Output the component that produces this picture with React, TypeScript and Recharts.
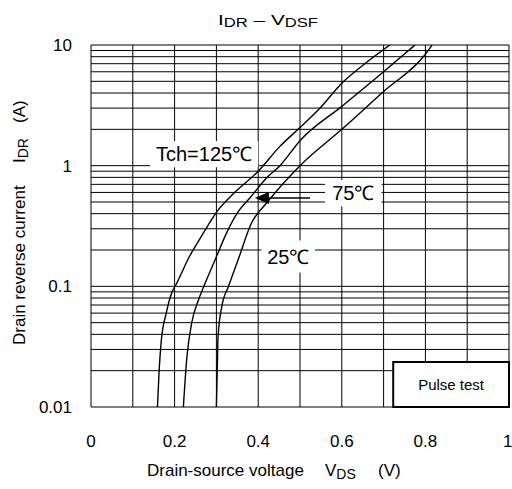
import { LineChart, Line, XAxis, YAxis, ReferenceLine, Label } from 'recharts'

// I_DR vs V_DSF
const curve125 = [
  { v: 0.159, i: 0.01 }, { v: 0.163, i: 0.02 }, { v: 0.168, i: 0.035 }, { v: 0.18, i: 0.06 },
  { v: 0.193, i: 0.088 }, { v: 0.205, i: 0.106 }, { v: 0.213, i: 0.121 }, { v: 0.233, i: 0.17 },
  { v: 0.255, i: 0.23 }, { v: 0.28, i: 0.32 }, { v: 0.3, i: 0.41 }, { v: 0.335, i: 0.56 },
  { v: 0.4, i: 0.9 }, { v: 0.452, i: 1.445 }, { v: 0.496, i: 2.01 },
  { v: 0.548, i: 3.0 }, { v: 0.6, i: 4.83 }, { v: 0.652, i: 6.86 }, { v: 0.715, i: 10 },
]
const curve75 = [
  { v: 0.221, i: 0.01 }, { v: 0.229, i: 0.025 }, { v: 0.241, i: 0.05 }, { v: 0.257, i: 0.077 },
  { v: 0.27, i: 0.1 }, { v: 0.297, i: 0.166 }, { v: 0.325, i: 0.28 },
  { v: 0.349, i: 0.4 }, { v: 0.382, i: 0.55 }, { v: 0.42, i: 0.79 }, { v: 0.452, i: 1.0 },
  { v: 0.502, i: 1.64 }, { v: 0.6, i: 3.1 }, { v: 0.7, i: 6.0 }, { v: 0.775, i: 10 },
]
const curve25 = [
  { v: 0.3, i: 0.01 }, { v: 0.302, i: 0.02 }, { v: 0.304, i: 0.0385 }, { v: 0.313, i: 0.068 },
  { v: 0.329, i: 0.1 }, { v: 0.352, i: 0.166 }, { v: 0.384, i: 0.335 },
  { v: 0.42, i: 0.49 }, { v: 0.5, i: 1.0 }, { v: 0.6, i: 2.0 }, { v: 0.7, i: 4.12 },
  { v: 0.799, i: 8.3 }, { v: 0.816, i: 10 },
]

const xTicks = [0, 0.2, 0.4, 0.6, 0.8, 1]
const yTicks = [0.01, 0.1, 1, 10]
const xGrid = [0, 0.1, 0.2, 0.3, 0.4, 0.5, 0.6, 0.7, 0.8, 0.9, 1]
const yGrid = [
  0.01, 0.02, 0.03, 0.04, 0.05, 0.06, 0.07, 0.08, 0.09,
  0.1, 0.2, 0.3, 0.4, 0.5, 0.6, 0.7, 0.8, 0.9,
  1, 2, 3, 4, 5, 6, 7, 8, 9, 10,
]

const FONT = "'Liberation Sans', Arial, sans-serif"

function Arrow(props: any) {
  const { x1, y1, x2, y2 } = props
  return (
    <g>
      <line x1={x1} y1={y1} x2={x2 + 10} y2={y2} stroke="#000" strokeWidth={1.5} />
      <polygon points={`${x2},${y2} ${x2 + 14},${y2 - 6} ${x2 + 14},${y2 + 6}`} fill="#000" />
    </g>
  )
}

// white label box drawn between the two corners of a reference segment
const textBox = (text: string, fontSize: number, border = false) => (props: any) => {
  const { x1, y1, x2, y2 } = props
  const x = Math.min(x1, x2)
  const y = Math.min(y1, y2)
  const w = Math.abs(x2 - x1)
  const h = Math.abs(y2 - y1)
  return (
    <g>
      <rect x={x} y={y} width={w} height={h} fill="#fff" stroke={border ? '#000' : 'none'} strokeWidth={2} />
      <text x={x + w / 2} y={y + h / 2} dy="0.36em" textAnchor="middle" fontSize={fontSize} fill="#000">{text}</text>
    </g>
  )
}

export default function App() {
  return (
    <div style={{ position: 'absolute', left: 0, top: 0, width: 512, height: 489, background: '#fff', fontFamily: FONT }}>
      <svg width={512} height={40} style={{ position: 'absolute', left: 0, top: 0 }}>
        <text x={218} y={25} fontSize={15} fill="#000" textLength={100} lengthAdjust="spacingAndGlyphs">
          <tspan>I</tspan>
          <tspan fontSize={12} dy={2}>DR</tspan>
          <tspan dy={-2}> – V</tspan>
          <tspan fontSize={12} dy={2}>DSF</tspan>
        </text>
      </svg>
      <LineChart width={512} height={489} margin={{ top: 45, right: 3, bottom: 52, left: 0 }}>
        <XAxis
          dataKey="v" type="number" domain={[0, 1]} ticks={xTicks} height={30}
          axisLine={false} tickLine={false} tickSize={0} tickMargin={28}
          tick={{ fill: '#000', fontSize: 17 }}
        >
          <Label
            content={({ viewBox }: any) => (
              <text y={viewBox.y + 69} fontSize={17} fill="#000">
                <tspan x={viewBox.x + 56}>Drain-source voltage</tspan>
                <tspan x={viewBox.x + 234}>V</tspan>
                <tspan fontSize={14} dy={3}>DS</tspan>
                <tspan x={viewBox.x + 287} dy={-3}>(V)</tspan>
              </text>
            )}
          />
        </XAxis>
        <YAxis
          dataKey="i" type="number" scale="log" domain={[0.01, 10]} ticks={yTicks} allowDataOverflow
          width={91} axisLine={false} tickLine={false} tickSize={0} tickMargin={19}
          tick={{ fill: '#000', fontSize: 17 }}
        >
          <Label
            content={() => (
              <text transform="rotate(-90)" y={25} fontSize={17} fill="#000">
                <tspan x={-345}>Drain reverse current</tspan>
                <tspan x={-163}>I</tspan>
                <tspan fontSize={14} dy={3}>DR</tspan>
                <tspan x={-123} dy={-3}>(A)</tspan>
              </text>
            )}
          />
        </YAxis>

        {yGrid.map((g) => (
          <ReferenceLine key={'h' + g} y={g} stroke="#000" strokeWidth={1} />
        ))}
        {xGrid.map((g) => (
          <ReferenceLine key={'v' + g} x={g} stroke="#000" strokeWidth={1} />
        ))}

        <Line data={curve125} dataKey="i" type="monotone" stroke="#000" strokeWidth={1.4} dot={false} isAnimationActive={false} />
        <Line data={curve75} dataKey="i" type="monotone" stroke="#000" strokeWidth={1.4} dot={false} isAnimationActive={false} />
        <Line data={curve25} dataKey="i" type="monotone" stroke="#000" strokeWidth={1.4} dot={false} isAnimationActive={false} />

        <ReferenceLine segment={[{ x: 0.141, y: 1.6 }, { x: 0.4, y: 0.97 }]} shape={textBox('Tch=125℃', 20)} />
        <ReferenceLine segment={[{ x: 0.56, y: 0.76 }, { x: 0.695, y: 0.46 }]} shape={textBox('75℃', 20)} />
        <ReferenceLine segment={[{ x: 0.408, y: 0.24 }, { x: 0.536, y: 0.13 }]} shape={textBox('25℃', 20)} />
        <ReferenceLine segment={[{ x: 0.524, y: 0.539 }, { x: 0.392, y: 0.539 }]} shape={Arrow} />
        <ReferenceLine segment={[{ x: 0.723, y: 0.0236 }, { x: 1, y: 0.01 }]} shape={textBox('Pulse test', 15, true)} />
      </LineChart>
    </div>
  )
}
